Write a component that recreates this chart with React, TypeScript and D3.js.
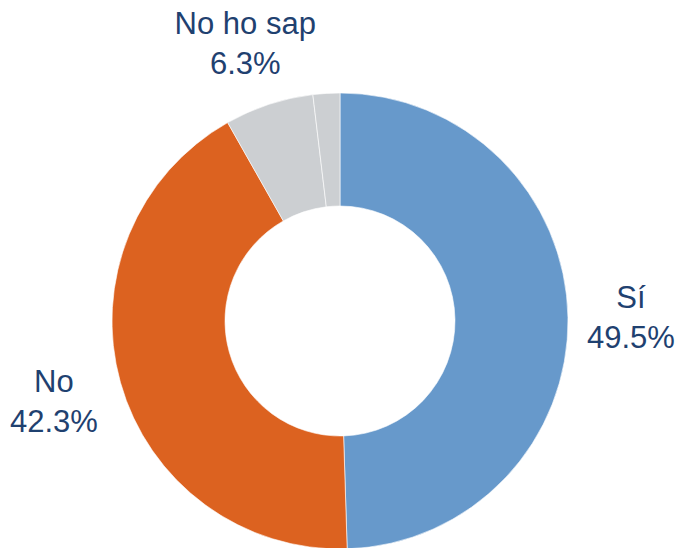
import React, { useEffect, useRef } from "react";
import * as d3 from "d3";

const categories = ["Sí", "No", "No ho sap", "No contesta"];
const values = [49.5, 42.3, 6.3, 1.9];
const shownLabels = ["Sí", "No", "No ho sap"];
const colors = ["#6799CB", "#DC6220", "#CCCFD2", "#CCCFD2"];

const App = () => {
  const svgRef = useRef<SVGSVGElement>(null);

  useEffect(() => {
    const width = 677;
    const height = 548;
    const cx = 340;
    const cy = 321;
    const outer = 228;
    const inner = 115;

    const svg = d3.select(svgRef.current);
    svg.selectAll("*").remove();
    svg.attr("width", width).attr("height", height);

    const data = categories.map((c, i) => ({ category: c, value: values[i], color: colors[i] }));

    const pie = d3
      .pie<any>()
      .sort(null)
      .value((d) => d.value);

    const arc = d3.arc<any>().innerRadius(inner).outerRadius(outer);
    const labelArc = d3.arc<any>().innerRadius(294).outerRadius(294);

    const g = svg.append("g").attr("transform", `translate(${cx},${cy})`);

    const arcs = pie(data);

    // Slices
    g.selectAll("path")
      .data(arcs)
      .enter()
      .append("path")
      .attr("d", arc)
      .attr("fill", (d) => d.data.color)
      .attr("stroke", "#ffffff")
      .attr("stroke-width", 0.6);

    // Labels
    const labels = g
      .selectAll("text.lbl")
      .data(arcs.filter((d) => shownLabels.includes(d.data.category)))
      .enter()
      .append("text")
      .attr("class", "lbl")
      .attr("text-anchor", "middle")
      .attr("font-family", "Liberation Sans, Arial, sans-serif")
      .attr("font-size", 31)
      .attr("fill", "#1F4170")
      .attr("transform", (d) => {
        const [x, y] = labelArc.centroid(d);
        return `translate(${x - 3},${y})`;
      });

    labels.append("tspan").attr("x", 0).attr("y", -8).text((d) => d.data.category);
    labels
      .append("tspan")
      .attr("x", 0)
      .attr("y", 32)
      .text((d) => d.data.value.toFixed(1) + "%");
  }, []);

  return <svg ref={svgRef} style={{ position: "absolute", left: 0, top: 0 }}></svg>;
};

export default App;
